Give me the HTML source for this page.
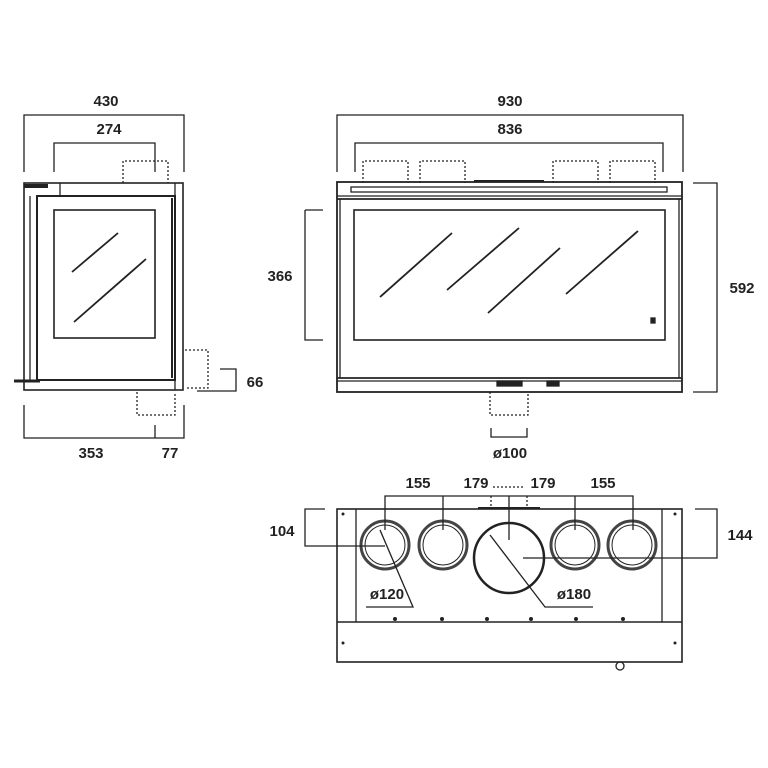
<!DOCTYPE html>
<html><head><style>body{margin:0;background:#fff}svg{display:block}text{font-family:"Liberation Sans",sans-serif;font-weight:bold;font-size:15px;fill:#222;text-anchor:middle}</style></head><body>
<svg width="768" height="768" viewBox="0 0 768 768" fill="none" stroke="#222" stroke-width="1.3">
<g>
<path d="M24 172V115H184V172M54 172V143H155V172"/>
<text x="106" y="106" stroke="none">430</text><text x="109" y="134" stroke="none">274</text>
<rect x="24" y="183" width="159" height="207" stroke-width="1.6"/>
<rect x="37" y="196" width="138" height="184" stroke-width="2"/>
<line x1="30" y1="196" x2="30" y2="380"/>
<line x1="175" y1="183" x2="175" y2="390"/>
<line x1="172" y1="198" x2="172" y2="378" stroke-width="2"/>
<line x1="60" y1="183" x2="60" y2="196"/>
<line x1="14" y1="381" x2="40" y2="381" stroke-width="3"/>
<line x1="24" y1="186" x2="48" y2="186" stroke-width="4"/>
<rect x="54" y="210" width="101" height="128" stroke-width="1.6"/>
<path d="M72 272L118 233M74 322L146 259" stroke-width="1.8"/>
<g stroke-dasharray="2 2"><path d="M123 183V161H168V183M185 350H208V388H185M137 392V415H175V392"/></g>
<path d="M220 369H236V391H197"/>
<text x="255" y="387" stroke="none">66</text>
<path d="M24 405V438H184V405M155 425V438"/>
<text x="91" y="458" stroke="none">353</text><text x="170" y="458" stroke="none">77</text>
</g>
<g>
<path d="M337 172V115H683V172M355 172V143H663V172"/>
<text x="510" y="106" stroke="none">930</text><text x="510" y="134" stroke="none">836</text>
<g stroke-dasharray="2 2"><path d="M363 183V161H408V183M420 183V161H465V183M553 183V161H598V183M610 183V161H655V183M490 392V415H528V392"/></g>
<rect x="337" y="182" width="345" height="210" stroke-width="1.8"/>
<line x1="337" y1="196" x2="682" y2="196"/><line x1="337" y1="199" x2="682" y2="199" stroke-width="1.8"/>
<rect x="351" y="187" width="316" height="5"/>
<line x1="337" y1="378" x2="682" y2="378" stroke-width="1.8"/><line x1="337" y1="381" x2="682" y2="381"/>
<line x1="340" y1="199" x2="340" y2="378"/><line x1="679" y1="199" x2="679" y2="378"/>
<rect x="354" y="210" width="311" height="130" stroke-width="1.6"/>
<path d="M380 297L452 233M447 290L519 228M488 313L560 248M566 294L638 231" stroke-width="1.8"/>
<rect x="651" y="318" width="4" height="5" fill="#222"/>
<rect x="497" y="381" width="25" height="5" fill="#222"/><rect x="547" y="381" width="12" height="5" fill="#222"/>
<line x1="474" y1="181" x2="544" y2="181" stroke-width="2"/>
<path d="M305 210H323M305 210V340H323"/>
<text x="280" y="281" stroke="none">366</text>
<path d="M693 183H717V392H693"/>
<text x="742" y="293" stroke="none">592</text>
<path d="M491 428V437H527V428"/>
<text x="510" y="458" stroke="none">ø100</text>
</g>
<g>
<rect x="337" y="509" width="345" height="153" stroke-width="1.6"/>
<line x1="337" y1="622" x2="682" y2="622" stroke-width="1.6"/>
<line x1="356" y1="509" x2="356" y2="622"/><line x1="662" y1="509" x2="662" y2="622"/>
<g stroke-width="3" stroke="#444"><circle cx="385" cy="545" r="24"/><circle cx="443" cy="545" r="24"/><circle cx="575" cy="545" r="24"/><circle cx="632" cy="545" r="24"/></g>
<g stroke-width="1"><circle cx="385" cy="545" r="20"/><circle cx="443" cy="545" r="20"/><circle cx="575" cy="545" r="20"/><circle cx="632" cy="545" r="20"/></g>
<circle cx="509" cy="558" r="35" stroke-width="2.5"/>
<path d="M385 530V496H633V530M443 530V496M509 540V496M575 530V496"/>
<path d="M491 496V508M527 496V508M493 487H525" stroke-dasharray="2 2"/>
<line x1="478" y1="508" x2="540" y2="508" stroke-width="2"/>
<text x="418" y="488" stroke="none">155</text><text x="476" y="488" stroke="none">179</text><text x="543" y="488" stroke="none">179</text><text x="603" y="488" stroke="none">155</text>
<path d="M325 509H305V546H385"/><text x="282" y="536" stroke="none">104</text>
<path d="M695 509H717V558H523"/><text x="740" y="540" stroke="none">144</text>
<path d="M380 530L413 607H366M490 535L545 607H593"/>
<text x="387" y="599" stroke="none">ø120</text><text x="574" y="599" stroke="none">ø180</text>
<g fill="#222" stroke="none"><circle cx="395" cy="619" r="2"/><circle cx="442" cy="619" r="2"/><circle cx="487" cy="619" r="2"/><circle cx="531" cy="619" r="2"/><circle cx="576" cy="619" r="2"/><circle cx="623" cy="619" r="2"/><circle cx="343" cy="514" r="1.5"/><circle cx="675" cy="514" r="1.5"/><circle cx="343" cy="643" r="1.5"/><circle cx="675" cy="643" r="1.5"/></g>
<circle cx="620" cy="666" r="4"/>
</g>
</svg>
</body></html>
